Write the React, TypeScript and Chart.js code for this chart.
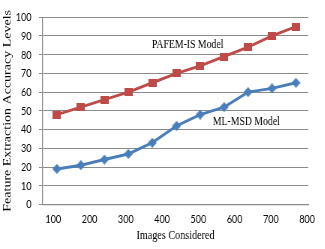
import React, { useEffect, useRef } from "react";
import { Chart, registerables } from "chart.js";

Chart.register(...registerables);

// ---- data ----
const imagesConsidered = [110, 176, 241, 307, 373, 440, 505, 571, 637, 703, 769];
const pafemValues = [48, 52, 56, 60, 65, 70, 74, 79, 84, 90, 95];
const mlmsdValues = [19, 21, 24, 27, 33, 42, 48, 52, 60, 62, 65];
const xTickValues = [100, 200, 300, 400, 500, 600, 700, 800];
const seriesNames = ["PAFEM-IS Model", "ML-MSD Model"];

// ---- layout / style ----
const OUT_W = 325;
const OUT_H = 249;
const SX = 0.75; // horizontal compression of the original picture
const W = Math.round(OUT_W / SX);
const RED = "#BE4B48";
const BLUE = "#4A7EBB";
const GRID = "#8c8c8c";

function makeSquare(color: string) {
  const c = document.createElement("canvas");
  c.width = 11;
  c.height = 8;
  const ctx = c.getContext("2d")!;
  ctx.fillStyle = color;
  ctx.fillRect(0, 0, 11, 8);
  return c;
}

function makeDiamond(color: string) {
  const c = document.createElement("canvas");
  c.width = 12;
  c.height = 10;
  const ctx = c.getContext("2d")!;
  ctx.fillStyle = color;
  ctx.beginPath();
  ctx.moveTo(6, 0);
  ctx.lineTo(12, 5);
  ctx.lineTo(6, 10);
  ctx.lineTo(0, 5);
  ctx.closePath();
  ctx.fill();
  return c;
}

const labelsPlugin = {
  id: "seriesLabels",
  afterDatasetsDraw(chart: any) {
    const { ctx, scales } = chart;
    const items = [
      { text: seriesNames[0], x: 372, y: 85.6 },
      { text: seriesNames[1], x: 540, y: 44.5 },
    ];
    ctx.save();
    ctx.fillStyle = "#000";
    ctx.font = "13px 'Liberation Serif', 'Times New Roman', serif";
    ctx.textAlign = "left";
    ctx.textBaseline = "middle";
    for (const it of items) {
      ctx.fillText(it.text, scales.x.getPixelForValue(it.x), scales.y.getPixelForValue(it.y));
    }
    ctx.restore();
  },
};

export default function App() {
  const ref = useRef<HTMLCanvasElement>(null);
  useEffect(() => {
    document.body.style.margin = "0";
    const chart = new Chart(ref.current!, {
      type: "line",
      data: {
        datasets: [
          {
            label: seriesNames[0],
            data: imagesConsidered.map((x, i) => ({ x, y: pafemValues[i] })),
            borderColor: RED,
            backgroundColor: RED,
            borderWidth: 3,
            pointStyle: makeSquare(RED) as any,
            pointRadius: 5,
            tension: 0,
          },
          {
            label: seriesNames[1],
            data: imagesConsidered.map((x, i) => ({ x, y: mlmsdValues[i] })),
            borderColor: BLUE,
            backgroundColor: BLUE,
            borderWidth: 3,
            pointStyle: makeDiamond(BLUE) as any,
            pointRadius: 5,
            tension: 0,
          },
        ],
      },
      options: {
        animation: false,
        responsive: false,
        maintainAspectRatio: false,
        layout: { padding: { left: 0, top: 12, right: 22, bottom: 0 } },
        plugins: { legend: { display: false }, tooltip: { enabled: false } },
        scales: {
          x: {
            type: "linear",
            min: 71,
            max: 803,
            afterBuildTicks: (s: any) => {
              s.ticks = xTickValues.map((v) => ({ value: v }));
            },
            afterFit: (s: any) => {
              s.height = 44.5;
            },
            grid: { display: false, drawTicks: false },
            border: { display: true, color: GRID, width: 1.2 },
            ticks: {
              padding: 7,
              color: "#000",
              font: { family: "Lato, 'Liberation Sans', sans-serif", size: 12 },
              maxRotation: 0,
              autoSkip: false,
            },
            title: {
              display: true,
              text: "Images Considered",
              color: "#000",
              font: { family: "'Liberation Serif', 'Times New Roman', serif", size: 13.5 },
              padding: { top: 0, bottom: 5 },
            },
          },
          y: {
            min: 0,
            max: 100,
            afterFit: (s: any) => {
              s.width = 57;
            },
            grid: { color: GRID, lineWidth: 1, drawTicks: true, tickLength: 5 },
            border: { display: true, color: GRID, width: 1.3 },
            ticks: {
              stepSize: 10,
              padding: 10,
              color: "#000",
              font: { family: "Lato, 'Liberation Sans', sans-serif", size: 12 },
            },
            title: {
              display: true,
              text: "Feature Extraction Accuracy Levels",
              color: "#000",
              font: { family: "'Liberation Serif', 'Times New Roman', serif", size: 14 },
              padding: { top: 2, bottom: 0 },
            },
          },
        },
      },
      plugins: [labelsPlugin],
    } as any);
    return () => chart.destroy();
  }, []);

  return (
    <div style={{ width: OUT_W, height: OUT_H, overflow: "hidden", background: "#fff" }}>
      <div style={{ width: W, height: OUT_H, transform: `scaleX(${SX})`, transformOrigin: "0 0" }}>
        <canvas ref={ref} width={W} height={OUT_H} style={{ display: "block" }} />
      </div>
    </div>
  );
}
